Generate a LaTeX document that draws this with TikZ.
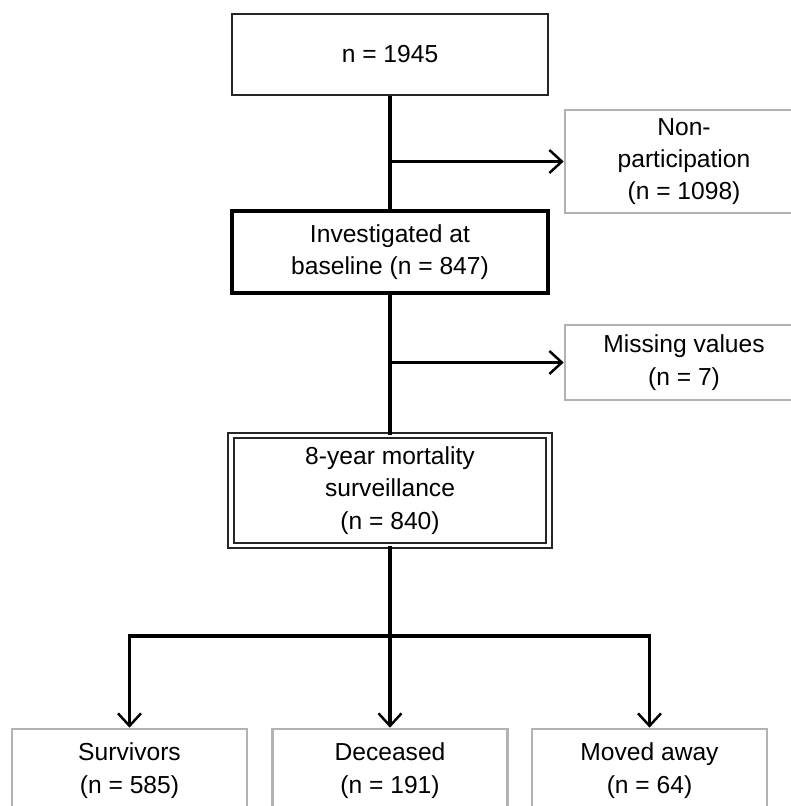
\documentclass[tikz,border=0pt]{standalone}
\usepackage{fontspec}
\setmainfont{Liberation Sans}
\usetikzlibrary{arrows.meta}

\begin{document}
\begin{tikzpicture}[
  font=\fontsize{14pt}{18.4pt}\selectfont,
  stagebox/.style={draw=black!85,line width=0.9pt,fill=white,align=center,minimum width=6.32cm,minimum height=1.62cm,inner sep=0pt},
  sidebox/.style={draw=gray!60,line width=1.5pt,fill=white,align=center,minimum width=4.76cm,inner sep=0pt},
  outcomebox/.style={sidebox,minimum width=4.7cm,minimum height=1.66cm},
  flowline/.style={line width=1.8pt},
  connection/.style={flowline,-{Straight Barb[length=2.5mm,width=4.6mm,line width=1.4pt]}}
]
  \useasboundingbox (0,0) rectangle (15.8,-16.12);

  \node[stagebox] (total) at (7.8,-1.09) {n = 1945};
  \node[stagebox,draw=black,line width=2.2pt,minimum height=1.64cm] (baseline) at (7.8,-5.04)
    {Investigated at\\baseline (n = 847)};
  \node[stagebox,double,line width=1pt,double distance=2pt,minimum width=6.36cm,minimum height=2.2cm] (surveillance) at (7.8,-9.81)
    {8-year mortality\\surveillance\\(n = 840)};

  \node[sidebox,minimum height=2.06cm] (nonparticipation) at (13.68,-3.23)
    {Non-\\participation\\(n = 1098)};
  \node[sidebox,minimum height=1.5cm] (missing) at (13.68,-7.25)
    {Missing values\\(n = 7)};

  \node[outcomebox] (survivors) at (2.59,-15.41) {Survivors\\(n = 585)};
  \node[outcomebox] (deceased) at (7.8,-15.41) {Deceased\\(n = 191)};
  \node[outcomebox] (movedaway) at (12.99,-15.41) {Moved away\\(n = 64)};

  \draw[flowline] (total) -- (baseline);
  \draw[connection] (total.south |- nonparticipation.west) -- (nonparticipation.west);
  \draw[flowline] (baseline) -- (surveillance);
  \draw[connection] (baseline.south |- missing.west) -- (missing.west);

  \coordinate (branch) at (7.8,-12.72);
  \draw[flowline] (surveillance) -- (branch);
  \draw[connection] (branch) -| (survivors.north);
  \draw[connection] (branch) -- (deceased.north);
  \draw[connection] (branch) -| (movedaway.north);
\end{tikzpicture}
\end{document}
